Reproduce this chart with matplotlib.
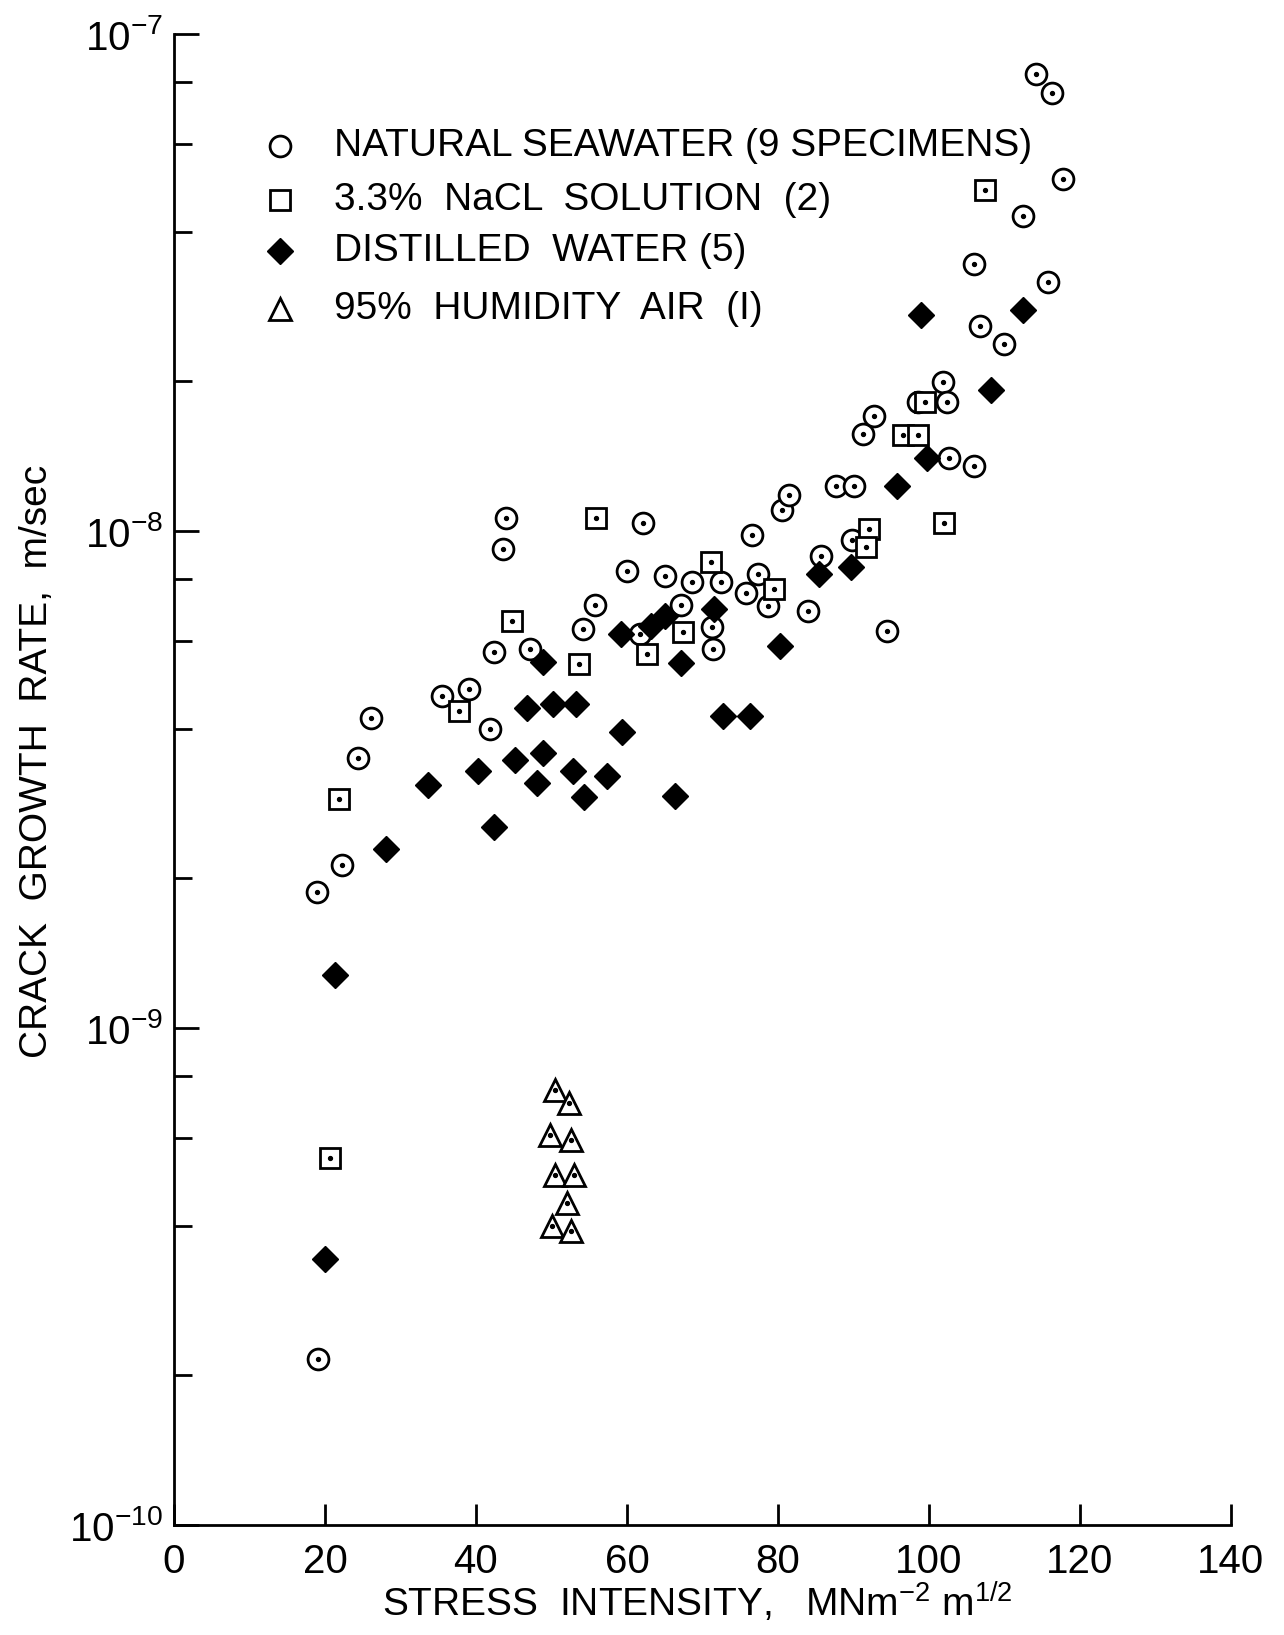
import numpy as np
import matplotlib
matplotlib.use("Agg")
import matplotlib.pyplot as plt
from matplotlib import font_manager
from matplotlib.ticker import LogLocator, FuncFormatter, NullFormatter

#-----Font: a narrow sans if it is there, else Liberation Sans---------------
names = {f.name for f in font_manager.fontManager.ttflist}
FONT = "Liberation Sans Narrow" if "Liberation Sans Narrow" in names else "Liberation Sans"
plt.rcParams["font.family"] = [FONT, "DejaVu Sans"]

#-----Data--------------------------------------------------------------------
# natural seawater (open circles)
sea_k = [18.9, 22.2, 24.4, 26.1, 35.5, 39.1, 41.9, 42.4, 43.6, 44.0,
         47.2, 54.2, 55.8, 60.0, 62.1, 61.7, 65.0, 67.1, 68.6, 71.3,
         71.4, 72.5, 75.7, 76.5, 77.3, 78.7, 80.5, 81.4, 84.0, 85.7,
         87.7, 90.0, 89.8, 91.2, 92.7, 94.4, 98.5, 101.8, 102.4, 102.7,
         106.0, 105.9, 106.8, 109.9, 112.4, 115.8, 114.2, 116.3, 117.8, 19.1]
sea_rate = [1.88e-9, 2.13e-9, 3.5e-9, 4.2e-9, 4.65e-9, 4.8e-9, 4.0e-9, 5.7e-9, 9.2e-9, 1.06e-8,
            5.8e-9, 6.35e-9, 7.1e-9, 8.3e-9, 1.04e-8, 6.2e-9, 8.1e-9, 7.1e-9, 7.9e-9, 6.4e-9,
            5.8e-9, 7.9e-9, 7.5e-9, 9.8e-9, 8.2e-9, 7.05e-9, 1.1e-8, 1.18e-8, 6.9e-9, 8.9e-9,
            1.23e-8, 1.23e-8, 9.6e-9, 1.57e-8, 1.7e-8, 6.3e-9, 1.82e-8, 1.99e-8, 1.82e-8, 1.4e-8,
            1.35e-8, 3.44e-8, 2.58e-8, 2.38e-8, 4.3e-8, 3.17e-8, 8.3e-8, 7.6e-8, 5.1e-8, 2.16e-10]

# 3.3% NaCl solution (open squares)
nacl_k = [21.8, 20.7, 37.8, 44.8, 55.9, 53.6, 62.7, 67.4, 71.1, 79.5,
          92.1, 91.7, 96.5, 98.6, 99.5, 102.0, 107.4]
nacl_rate = [2.89e-9, 5.47e-10, 4.35e-9, 6.6e-9, 1.06e-8, 5.4e-9, 5.65e-9, 6.25e-9, 8.65e-9, 7.65e-9,
             1.01e-8, 9.3e-9, 1.56e-8, 1.56e-8, 1.82e-8, 1.04e-8, 4.85e-8]

# distilled water (filled diamonds)
dist_k = [20.0, 21.3, 28.1, 33.7, 40.3, 42.4, 45.1, 46.7, 48.1, 48.9,
          48.9, 50.2, 52.8, 53.2, 54.3, 57.4, 59.3, 59.2, 63.2, 65.0,
          66.4, 67.2, 71.5, 72.7, 76.3, 80.3, 85.4, 89.7, 95.7, 99.7,
          98.9, 108.2, 112.4]
dist_rate = [3.43e-10, 1.28e-9, 2.29e-9, 3.08e-9, 3.29e-9, 2.54e-9, 3.46e-9, 4.4e-9, 3.11e-9, 3.58e-9,
             5.45e-9, 4.48e-9, 3.29e-9, 4.48e-9, 2.92e-9, 3.22e-9, 3.94e-9, 6.2e-9, 6.45e-9, 6.75e-9,
             2.93e-9, 5.42e-9, 6.97e-9, 4.24e-9, 4.24e-9, 5.87e-9, 8.2e-9, 8.45e-9, 1.23e-8, 1.4e-8,
             2.72e-8, 1.92e-8, 2.78e-8]

# 95% humidity air (open triangles)
air_k = [50.5, 52.3, 49.8, 52.6, 50.5, 53.0, 52.0, 50.1, 52.6]
air_rate = [7.5e-10, 7.05e-10, 6.1e-10, 5.95e-10, 5.05e-10, 5.05e-10, 4.45e-10, 4.0e-10, 3.9e-10]

legend_labels = ["NATURAL SEAWATER (9 SPECIMENS)",
                 "3.3%  NaCL  SOLUTION  (2)",
                 "DISTILLED  WATER (5)",
                 "95%  HUMIDITY  AIR  (I)"]

x_ticks = [0, 20, 40, 60, 80, 100, 120, 140]

#-----Figure------------------------------------------------------------------
W, H = 1284, 1635
fig = plt.figure(figsize=(W / 100, H / 100), dpi=100)
ax = fig.add_axes([174 / W, 110 / H, 1057 / W, 1491 / H])

FS = 28
LW = 2.0

styles = [
    dict(marker="o", ms=15, mfc="white", mec="black", mew=LW),
    dict(marker="s", ms=15, mfc="white", mec="black", mew=LW),
    dict(marker="D", ms=13, mfc="black", mec="black", mew=1),
    dict(marker="^", ms=16, mfc="white", mec="black", mew=LW),
]
series = [(sea_k, sea_rate, True), (nacl_k, nacl_rate, True),
          (dist_k, dist_rate, False), (air_k, air_rate, True)]

for i, ((xs, ys, dot), st) in enumerate(zip(series, styles)):
    ax.plot(xs, ys, linestyle="none", zorder=3 + i, clip_on=False, **st)
    if dot:
        ax.plot(xs, ys, linestyle="none", marker="o", ms=2.8, color="black",
                zorder=3.5 + i, clip_on=False)

ax.set_yscale("log")
ax.set_xlim(0, 140)
ax.set_ylim(1e-10, 1e-7)

#-----Axes look---------------------------------------------------------------
for side in ["top", "right"]:
    ax.spines[side].set_visible(False)
for side in ["left", "bottom"]:
    ax.spines[side].set_linewidth(LW)

ax.set_xticks(x_ticks)
ax.set_xticklabels([str(t) for t in x_ticks])
ax.yaxis.set_major_locator(LogLocator(base=10, numticks=10))
ax.yaxis.set_minor_locator(LogLocator(base=10, subs=[2, 4, 6, 8], numticks=10))
ax.yaxis.set_major_formatter(FuncFormatter(
    lambda v, _: r"$\mathregular{10^{%d}}$" % int(round(np.log10(v)))))
ax.yaxis.set_minor_formatter(NullFormatter())

ax.tick_params(axis="x", which="major", direction="in", length=15, width=LW,
               labelsize=29, pad=13)
ax.tick_params(axis="y", which="major", direction="in", length=18, width=LW,
               labelsize=29, pad=8)
ax.tick_params(axis="y", which="minor", direction="in", length=13, width=LW)

#-----Axis titles-------------------------------------------------------------
ax.set_ylabel("CRACK  GROWTH  RATE,  m/sec", fontsize=FS, va="center")
ax.yaxis.set_label_coords(-0.1296, 0.512)
ax.set_xlabel(r"STRESS  INTENSITY,   MNm$\mathregular{^{-2}}$ m$\mathregular{^{1/2}}$",
              fontsize=FS, va="center")
ax.xaxis.set_label_coords(0.495, -0.052)

#-----Legend drawn by hand (no centre dots on the key)-----------------------
leg_rows = [146, 200, 251, 309]
for label, st, row in zip(legend_labels, styles, leg_rows):
    yf = 1 - row / H
    fig.lines.append(plt.Line2D([280 / W], [yf], transform=fig.transFigure,
                                linestyle="none", **st))
    fig.text(334 / W, yf, label, ha="left", va="center", fontsize=FS)

fig.savefig("out.png", dpi=100)
